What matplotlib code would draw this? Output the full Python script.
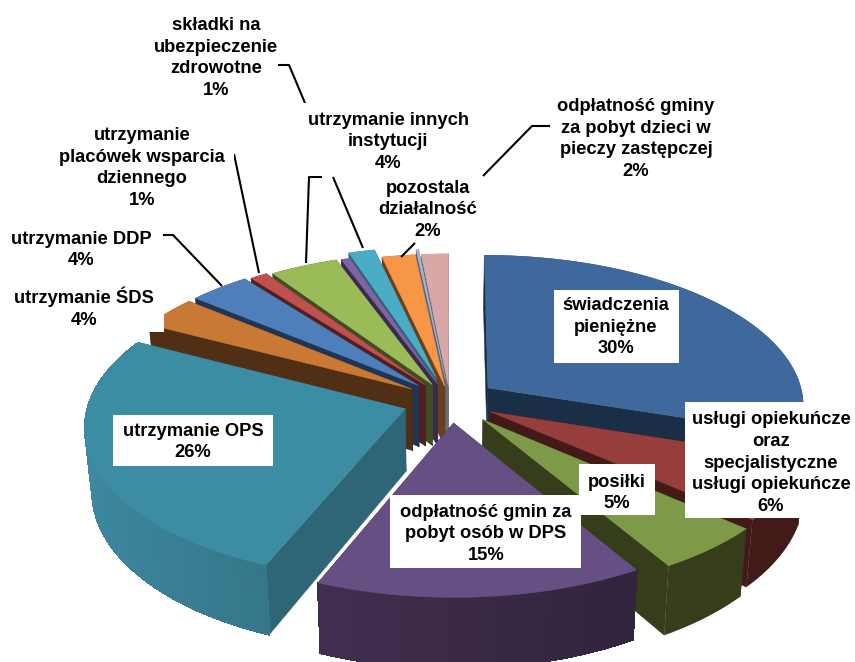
import numpy as np
import matplotlib
matplotlib.use('Agg')
import matplotlib.pyplot as plt
from matplotlib.patches import Polygon, Rectangle
from matplotlib.colors import to_rgb

plt.rcParams['font.family'] = ['Liberation Sans', 'DejaVu Sans']

# ---- data (clockwise from 12 o'clock) ----
categories = ['świadczenia pieniężne', 'usługi opiekuńcze oraz specjalistyczne usługi opiekuńcze',
              'posiłki', 'odpłatność gmin za pobyt osób w DPS', 'utrzymanie OPS', 'utrzymanie ŚDS',
              'utrzymanie DDP', 'utrzymanie placówek wsparcia dziennego', 'utrzymanie innych instytucji',
              'inne', 'składki na ubezpieczenie zdrowotne', 'pozostala działalność', 'inne 2',
              'odpłatność gminy za pobyt dzieci w pieczy zastępczej']
values = [30, 6.4, 5.0, 14.8, 26.4, 3.4, 3.5, 1.0, 3.9, 0.5, 1.5, 1.9, 0.15, 1.55]
explode = [.15, .145, .16, .145, .15, .145, .145, .135, .125, .12, .165, .1, .14, .1]
top_colors = ['#3F689C', '#963E3C', '#7E9A48', '#664F82', '#3C8CA4', '#C87933', '#4F7FBB',
              '#C0504D', '#9BBB59', '#8064A2', '#4BACC6', '#F79646', '#A0B4D4', '#D8A8A8']
side_colors = ['#1A2E45', '#431A18', '#353D1A', '#3A2A47', '#2E6677', '#502F14', '#1F3555',
               '#4F2020', '#3F4D24', '#3A2A50', '#2E6677', '#6A401C', '#56647C', '#6E6E6E']
side_grad = [0, 0, 0, .3, .3, 0, 0, 0, 0, 0, 0, 0, 0, 0]

label_texts = ['świadczenia\npieniężne\n30%',
               'usługi opiekuńcze\noraz\nspecjalistyczne\nusługi opiekuńcze\n6%',
               'posiłki\n5%',
               'odpłatność gmin za\npobyt osób w DPS\n15%',
               'utrzymanie OPS\n26%',
               'utrzymanie ŚDS\n4%',
               'utrzymanie DDP\n4%',
               'utrzymanie\nplacówek wsparcia\ndziennego\n1%',
               'utrzymanie innych\ninstytucji\n4%',
               'składki na\nubezpieczenie\nzdrowotne\n1%',
               'pozostala\ndziałalność\n2%',
               'odpłatność gminy\nza pobyt dzieci w\npieczy zastępczej\n2%']
# label centre (px) and white box (x0, y0, x1, y1)
label_pos = [(616, 327), (771, 463), (617, 493), (486, 534), (193, 442), (84, 308), (81, 250),
             (142, 168), (388, 142), (216, 58), (428, 210), (636, 139)]
label_box = [(554, 290, 679, 363), (685, 402, 855, 518), (579, 464, 655, 515), (390, 495, 581, 568),
             (113, 415, 273, 466), (10, 283, 164, 332), (10, 226, 160, 272),
             (50, 124, 234, 210), (300, 103, 476, 176), (150, 12, 278, 100), (378, 178, 476, 240),
             (550, 93, 725, 182)]
leaders = [[(163, 235), (173, 235), (222, 286)],
           [(234, 154), (259, 273)],
           [(278, 65), (289, 65), (305, 103)],
           [(322, 177), (309, 177), (306, 263)],
           [(333, 177), (363, 248)],
           [(415, 243), (401, 257)],
           [(483, 176), (532, 126), (550, 126)]]

# ---- projection ----
CX, CY = 450.0, 401.0
AX, AY, K, DEPTH = 316.0, 150.0, 0.11, 62.0


def top(X, Y):
    s = 1 / (1 + K * np.asarray(Y))
    return np.c_[CX + AX * np.asarray(X) * s, CY - AY * np.asarray(Y) * s]


def bottom(X, Y):
    s = 1 / (1 + K * np.asarray(Y))
    p = top(X, Y)
    p[:, 0] = CX + (p[:, 0] - CX) * 0.98
    p[:, 1] = p[:, 1] + DEPTH * s
    return p


def shade(c, f):
    return tuple(min(1, v * f) for v in to_rgb(c))


fig = plt.figure(figsize=(8.55, 6.62), dpi=100)
ax = fig.add_axes([0, 0, 1, 1])
ax.set_xlim(0, 855)
ax.set_ylim(662, 0)
ax.axis('off')

shares = np.array(values) / sum(values) * 2 * np.pi
ends = np.cumsum(shares)
starts = ends - shares
mids = (starts + ends) / 2
order = np.argsort(-np.cos(mids))

z = 1
for i in order:
    a0, a1 = starts[i], ends[i]
    ox, oy = explode[i] * np.sin(mids[i]), explode[i] * np.cos(mids[i])
    th = np.linspace(a0, a1, max(4, int((a1 - a0) * 40)))
    X, Y = ox + np.sin(th), oy + np.cos(th)
    apex = np.array([ox]), np.array([oy])
    apex_t, apex_b = top(*apex), bottom(*apex)
    pt, pb = top(X, Y), bottom(X, Y)
    side = side_colors[i]
    # radial walls
    for k in (0, -1):
        ax.add_patch(Polygon([apex_t[0], pt[k], pb[k], apex_b[0]], closed=True, fc=side, ec=side, lw=.3, zorder=z))
    z += 1
    # outer wall: one solid shape, then strips for the shading where it shows
    ax.add_patch(Polygon(np.vstack([pt, pb[::-1]]), closed=True, fc=shade(side, 1 - side_grad[i] * X.mean()),
                         ec='none', zorder=z))
    z += 1
    if side_grad[i]:
        for k in range(len(th) - 1):
            col = shade(side, 1 - side_grad[i] * (X[k] + X[k + 1]) / 2)
            ax.add_patch(Polygon([pt[k], pt[k + 1], pb[k + 1], pb[k]], closed=True, fc=col, ec=col, lw=.8,
                                 antialiased=False, zorder=z))
        z += 1
    ax.add_patch(Polygon(np.vstack([apex_t, pt]), closed=True, fc=top_colors[i], ec=top_colors[i], lw=.3, zorder=z))
    z += 1

for line in leaders:
    xs, ys = zip(*line)
    ax.plot(xs, ys, color='black', lw=1.5, zorder=z, solid_capstyle='butt')
z += 1
for (x0, y0, x1, y1) in label_box:
    ax.add_patch(Rectangle((x0, y0), x1 - x0, y1 - y0, fc='white', ec='none', zorder=z))
z += 1
for txt, (x, y) in zip(label_texts, label_pos):
    ax.text(x, y, txt, ha='center', va='center', fontsize=13.2, fontweight='bold',
            color='black', linespacing=1.37, zorder=z)

fig.savefig('out.png', dpi=100)
